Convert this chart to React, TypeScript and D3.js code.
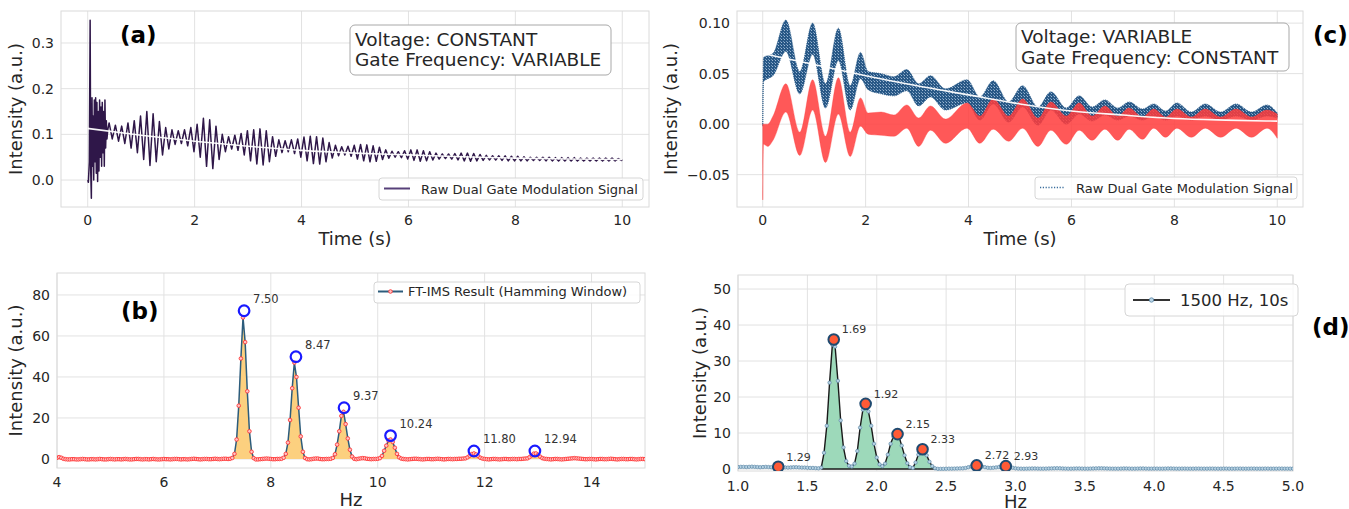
import React from "react";
import * as d3 from "d3";

const FONT = "DejaVu Sans, Verdana, sans-serif";
const INK = "#262626";

// ---------------- Panel (a): raw signal, voltage constant ----------------
const aEarlyT = [0, 0.012, 0.03, 0.045, 0.056, 0.068, 0.08, 0.09, 0.1, 0.112, 0.124, 0.136, 0.148, 0.16, 0.172, 0.185, 0.197, 0.21, 0.222, 0.235, 0.248, 0.26, 0.272, 0.285, 0.298, 0.31, 0.322, 0.335, 0.348, 0.36, 0.375];
const aEarlyV = [0.0, -0.005, 0.04, 0.35, 0.02, -0.04, 0.18, 0.03, 0.14, 0.0, 0.175, 0.04, 0.18, 0.015, 0.17, -0.003, 0.15, 0.02, 0.175, 0.05, 0.16, 0.03, 0.17, 0.06, 0.15, 0.03, 0.175, 0.07, 0.13, 0.09, 0.11];
const A_CYCLE_T0 = 0.4;
const A_PERIOD = 0.1176;
const aCrest = [0.125, 0.12, 0.118, 0.125, 0.13, 0.14, 0.15, 0.145, 0.128, 0.115, 0.11, 0.108, 0.11, 0.115, 0.122, 0.135, 0.132, 0.118, 0.1, 0.095, 0.098, 0.102, 0.108, 0.11, 0.112, 0.108, 0.095, 0.088, 0.086, 0.088, 0.09, 0.094, 0.096, 0.095, 0.092, 0.082, 0.076, 0.073, 0.074, 0.076, 0.078, 0.077, 0.075, 0.072, 0.066, 0.063, 0.062, 0.064, 0.066, 0.066, 0.064, 0.062, 0.059, 0.057, 0.057, 0.058, 0.059, 0.059, 0.058, 0.056, 0.054, 0.053, 0.053, 0.053, 0.052, 0.052, 0.051, 0.05, 0.05, 0.05, 0.05, 0.049, 0.049, 0.049, 0.049, 0.048, 0.048, 0.048, 0.048, 0.048, 0.048, 0.047];
const aTrough = [0.09, 0.085, 0.08, 0.07, 0.06, 0.045, 0.032, 0.04, 0.055, 0.068, 0.078, 0.08, 0.075, 0.062, 0.05, 0.03, 0.025, 0.045, 0.062, 0.068, 0.065, 0.055, 0.042, 0.035, 0.033, 0.04, 0.052, 0.06, 0.062, 0.058, 0.05, 0.042, 0.036, 0.035, 0.04, 0.048, 0.053, 0.055, 0.052, 0.046, 0.042, 0.04, 0.041, 0.045, 0.048, 0.05, 0.049, 0.046, 0.043, 0.041, 0.042, 0.044, 0.046, 0.047, 0.046, 0.044, 0.042, 0.041, 0.042, 0.043, 0.044, 0.044, 0.043, 0.042, 0.042, 0.042, 0.042, 0.043, 0.043, 0.042, 0.042, 0.042, 0.042, 0.042, 0.042, 0.042, 0.042, 0.042, 0.042, 0.042, 0.042, 0.043];
const aEndT = 10;
const aEndV = 0.045;
const aTrendT = [0, 1, 2, 3, 4, 5, 6, 7, 8, 9, 10];
const aTrend = [0.113, 0.098, 0.085, 0.074, 0.065, 0.059, 0.055, 0.051, 0.048, 0.046, 0.045];

// ---------------- Panel (b): FT-IMS spectrum ----------------
const B_STEP = 0.04;
const bPieces: [number, number[]][] = [
  [4.0, [0.6, 0.9, 0.6, 0.1, -0.1, -0.2, -0.2, -0.1, -0.1, -0.2, -0.2, -0.1, 0.0, -0.1, -0.2, -0.2, -0.1, -0.1, -0.2, -0.1, 0.0, -0.1, -0.2, -0.2, -0.1, 0.0, -0.1, -0.2, -0.1, -0.1, -0.2, -0.1, 0.0, -0.1, -0.2, -0.2, -0.1, 0.0, 0.0, -0.1, -0.2, -0.1, -0.1, -0.2, -0.1, 0.0, -0.1, -0.2, -0.2, -0.1, 0.0, -0.1, -0.1, -0.2, -0.1, 0.0, 0.0, -0.1, -0.2, -0.1, -0.1, -0.2, -0.1, 0.0, 0.1, 0.0, -0.1, -0.2, -0.1, 0.0, 0.0, -0.1, -0.1, 0.0, 0.1, 0.0, -0.1, 0.0, 0.1, 0.1, 0.0, 0.1]],
  [7.28, [0.5, 2.5, 9.5, 26, 49, 69, 57, 33, 13.5, 3.5, 0.4, -0.2]],
  [7.76, [-0.2, -0.1, 0.0, 0.1, 0.2, 0.1, 0.0, -0.1, -0.1, 0.0, 0.0]],
  [8.2, [0.1, 0.6, 2.5, 8, 19, 34.5, 47, 40, 25, 11, 3.5, 0.5, -0.1]],
  [8.72, [-0.2, -0.1, 0.1, 0.2, 0.2, 0.0, -0.1, -0.1, 0.0, 0.0]],
  [9.12, [0.1, 0.5, 2.3, 7, 13.5, 21, 23, 17, 10, 4.5, 1.2, 0.1]],
  [9.6, [-0.1, 0.1, 0.3, 0.4, 0.3, 0.1, 0.0, -0.1, 0.0, 0.0, 0.1]],
  [10.04, [0.4, 1.5, 4, 6.5, 9, 9.5, 8.3, 5.5, 2.5, 0.8, 0.2]],
  [10.48, [0.0, -0.1, -0.2, -0.1, 0.0, 0.1, 0.1, 0.0, -0.1, -0.2, -0.1, 0.0, 0.0, -0.1, -0.1, 0.0, 0.1, 0.0, -0.1, -0.2, -0.1, 0.0, 0.0, -0.1, 0.0, 0.0, 0.1, 0.1, 0.2]],
  [11.64, [0.3, 0.8, 1.6, 2.4, 2.7, 2.2, 1.4, 0.6, 0.2]],
  [12.0, [0.0, -0.1, -0.2, -0.1, 0.0, 0.0, -0.1, -0.2, -0.1, 0.0, 0.0, -0.1, -0.1, 0.0, 0.0, -0.1, 0.0, 0.0, 0.1, 0.2]],
  [12.8, [0.3, 0.9, 1.8, 2.6, 2.7, 2.0, 1.1, 0.4, 0.1]],
  [13.16, [0.0, -0.1, -0.2, -0.1, 0.0, 0.0, -0.1, -0.2, -0.1, 0.0, 0.1, 0.2, 0.3, 0.4, 0.3, 0.2, 0.1, 0.0, -0.1, -0.1, 0.0, 0.0, -0.1, -0.2, -0.1, 0.0, 0.0, -0.1, -0.1, 0.0, 0.1, 0.0, -0.1, -0.2, -0.1, 0.0, 0.0, -0.1, -0.1, 0.0, 0.0, -0.1, -0.2, -0.1, 0.0, 0.0, -0.1]],
];
const bPeakHz = [7.5, 8.47, 9.37, 10.24, 11.8, 12.94];
const bPeakVal = [72.3, 49.9, 25.0, 11.4, 3.9, 3.9];

// ---------------- Panel (c): raw signal, voltage variable ----------------
const cT = [0, 0.015, 0.1, 0.2, 0.45, 0.72, 0.97, 1.22, 1.47, 1.7, 1.9, 2.05, 2.3, 2.55, 2.8, 3.03, 3.26, 3.55, 3.97, 4.22, 4.48, 4.78, 5.05, 5.35, 5.6, 5.9, 6.15, 6.4, 6.65, 6.9, 7.12, 7.38, 7.6, 7.83, 8.05, 8.33, 8.6, 8.9, 9.2, 9.5, 9.8, 10];
const cRedHi = [0.0, 0.0, 0.0, 0.008, 0.04, -0.008, 0.044, -0.012, 0.046, -0.008, 0.026, 0.011, 0.012, 0.009, 0.019, 0.006, 0.018, 0.005, 0.021, 0.008, 0.025, 0.008, 0.025, 0.006, 0.022, 0.008, 0.021, 0.008, 0.018, 0.008, 0.016, 0.007, 0.015, 0.007, 0.015, 0.007, 0.015, 0.007, 0.015, 0.007, 0.014, 0.01];
const cRedLo = [-0.075, -0.02, -0.022, -0.016, 0.012, -0.031, 0.014, -0.038, 0.01, -0.032, -0.002, -0.01, -0.011, -0.012, -0.004, -0.022, -0.006, -0.019, -0.004, -0.019, -0.005, -0.017, -0.004, -0.022, -0.006, -0.02, -0.006, -0.016, -0.005, -0.016, -0.005, -0.015, -0.004, -0.013, -0.004, -0.013, -0.004, -0.013, -0.004, -0.013, -0.004, -0.014];
const cBlueHi = [0.0, 0.066, 0.068, 0.07, 0.103, 0.052, 0.1, 0.04, 0.095, 0.038, 0.071, 0.052, 0.05, 0.047, 0.054, 0.04, 0.048, 0.035, 0.044, 0.027, 0.043, 0.022, 0.038, 0.017, 0.032, 0.016, 0.028, 0.017, 0.024, 0.016, 0.022, 0.015, 0.02, 0.013, 0.021, 0.012, 0.02, 0.012, 0.02, 0.012, 0.019, 0.011];
const cBlueLo = [-0.002, 0.042, 0.045, 0.048, 0.072, 0.03, 0.069, 0.016, 0.063, 0.014, 0.045, 0.034, 0.03, 0.028, 0.033, 0.018, 0.027, 0.014, 0.021, 0.004, 0.02, 0.002, 0.017, -0.001, 0.014, 0.0, 0.01, 0.003, 0.009, 0.004, 0.008, 0.004, 0.008, 0.004, 0.008, 0.004, 0.008, 0.004, 0.008, 0.004, 0.008, 0.006];
const cTrendT = [0, 1, 2, 3, 4, 5, 6, 7, 8, 9, 10];
const cTrend = [0.07, 0.059, 0.048, 0.038, 0.029, 0.02, 0.013, 0.009, 0.0056, 0.004, 0.003];

// ---------------- Panel (d): spectrum 1500 Hz, 10 s ----------------
const D_STEP = 0.02;
const dPieces: [number, number[]][] = [
  [1.0, [0.55, 0.6, 0.6, 0.55, 0.6, 0.65, 0.6, 0.55, 0.5, 0.55, 0.6, 0.55, 0.5, 0.45, 0.45, 0.5, 0.5, 0.45, 0.4, 0.45, 0.5, 0.5, 0.45, 0.4, 0.4, 0.35, 0.3, 0.3, 0.25, 0.2]],
  [1.6, [0.4, 4.5, 12, 24, 34.5, 34, 24.5, 13.5, 6, 2.2, 0.9, 0.7, 1.5, 5, 11.5, 16.5, 17.8, 16, 12, 7, 3.2, 1.3, 0.8, 1.5, 4, 7, 9, 9.6, 9, 6.5, 3.8, 1.6, 0.5, 0.3, 1.8, 4, 5.3, 5.1, 3.8, 2, 0.8, 0.2, 0.05]],
  [2.46, [0.05, 0.05, 0.08, 0.1, 0.1, 0.12, 0.15, 0.18, 0.2, 0.3, 0.5, 0.7, 0.85, 0.9, 0.85, 0.7, 0.5, 0.35, 0.3, 0.35, 0.45, 0.55, 0.6, 0.62, 0.6, 0.5, 0.35, 0.2, 0.12]],
  [3.04, [0.1, 0.08, 0.1, 0.12, 0.15, 0.15, 0.12, 0.1, 0.1, 0.12, 0.15, 0.18, 0.2, 0.22, 0.2, 0.15, 0.12, 0.1, 0.1, 0.12, 0.15, 0.15, 0.12, 0.1, 0.1, 0.12, 0.15, 0.18, 0.2, 0.2, 0.18, 0.15, 0.12, 0.1, 0.1, 0.1, 0.12, 0.15, 0.15, 0.12, 0.1, 0.1, 0.12, 0.15, 0.15, 0.12, 0.1, 0.1, 0.12, 0.12, 0.1, 0.1, 0.12, 0.15, 0.15, 0.12, 0.1, 0.1, 0.12, 0.12, 0.1, 0.1, 0.1, 0.12, 0.12, 0.1, 0.1, 0.1, 0.12, 0.12, 0.1, 0.1, 0.1, 0.12, 0.12, 0.1, 0.1, 0.1, 0.12, 0.12, 0.1, 0.1, 0.1, 0.12, 0.12, 0.1, 0.1, 0.1, 0.12, 0.12, 0.1, 0.1, 0.1, 0.12, 0.12, 0.1, 0.1, 0.1, 0.1]],
];
const dPeakHz = [1.29, 1.69, 1.92, 2.15, 2.33, 2.72, 2.93];
const dPeakVal = [0.65, 36, 18.1, 9.7, 5.5, 1.0, 0.8];
const D_FILL_FROM = 1.6;
const D_FILL_TO = 2.44;

// ---------------- ticks ----------------
const aXTicks = [0, 2, 4, 6, 8, 10];
const aYTicks = [0, 0.1, 0.2, 0.3];
const bXTicks = [4, 6, 8, 10, 12, 14];
const bYTicks = [0, 20, 40, 60, 80];
const cXTicks = [0, 2, 4, 6, 8, 10];
const cYTicks = [-0.05, 0, 0.05, 0.1];
const dXTicks = [1, 1.5, 2, 2.5, 3, 3.5, 4, 4.5, 5];
const dYTicks = [0, 10, 20, 30, 40, 50];

type Pt = [number, number];
type Lin = d3.ScaleLinear<number, number>;

function expand(pieces: [number, number[]][], step: number): Pt[] {
  const out: Pt[] = [];
  pieces.forEach(([s, vals]) => vals.forEach((v, i) => out.push([+(s + i * step).toFixed(4), v])));
  return out.sort((a, b) => a[0] - b[0]);
}

const minus = (s: string) => s.replace("-", "\u2212");

function Frame(p: {
  x: Lin; y: Lin; xTicks: number[]; yTicks: number[];
  xFmt: (v: number) => string; yFmt: (v: number) => string;
  xTickY: number; xLabel: string; xLabelY: number; yLabelX: number; id: string;
}) {
  const [x0, x1] = p.x.range();
  const [yb, yt] = p.y.range();
  return (
    <g fontFamily={FONT}>
      <defs>
        <clipPath id={p.id}>
          <rect x={x0} y={yt} width={x1 - x0} height={yb - yt} />
        </clipPath>
      </defs>
      <rect x={x0} y={yt} width={x1 - x0} height={yb - yt} fill="#ffffff" />
      {p.xTicks.map((t) => (
        <line key={"gx" + t} x1={p.x(t)} x2={p.x(t)} y1={yt} y2={yb} stroke="#e2e2e2" strokeWidth={1} />
      ))}
      {p.yTicks.map((t) => (
        <line key={"gy" + t} x1={x0} x2={x1} y1={p.y(t)} y2={p.y(t)} stroke="#e2e2e2" strokeWidth={1} />
      ))}
      <rect x={x0} y={yt} width={x1 - x0} height={yb - yt} fill="none" stroke="#dadada" strokeWidth={1} />
      {p.xTicks.map((t) => (
        <text key={"tx" + t} x={p.x(t)} y={p.xTickY} textAnchor="middle" fontSize={14} fill={INK}>
          {p.xFmt(t)}
        </text>
      ))}
      {p.yTicks.map((t) => (
        <text key={"ty" + t} x={x0 - 7} y={p.y(t)} dy="0.36em" textAnchor="end" fontSize={14} fill={INK}>
          {p.yFmt(t)}
        </text>
      ))}
      <text x={(x0 + x1) / 2} y={p.xLabelY} textAnchor="middle" fontSize={18} fill={INK}>
        {p.xLabel}
      </text>
      <text transform={`translate(${p.yLabelX},${(yb + yt) / 2}) rotate(-90)`} textAnchor="middle" fontSize={18} fill={INK}>
        Intensity (a.u.)
      </text>
    </g>
  );
}

export default function App() {
  const xA = d3.scaleLinear().domain([-0.5, 10.5]).range([61, 649]);
  const yA = d3.scaleLinear().domain([-0.059, 0.37]).range([207, 11]);
  const xB = d3.scaleLinear().domain([4, 15]).range([57, 645]);
  const yB = d3.scaleLinear().domain([-4.4, 90.7]).range([468, 273]);
  const xC = d3.scaleLinear().domain([-0.5, 10.5]).range([737, 1303]);
  const yC = d3.scaleLinear().domain([-0.082, 0.112]).range([207, 11]);
  const xD = d3.scaleLinear().domain([1, 5]).range([738, 1293]);
  const yD = d3.scaleLinear().domain([-0.55, 53.9]).range([471, 275]);

  // (a) signal
  const aSignal: Pt[] = [
    ...aEarlyT.map((t, i) => [t, aEarlyV[i]] as Pt),
    ...aCrest.flatMap((c, k) => [
      [A_CYCLE_T0 + k * A_PERIOD, c] as Pt,
      [A_CYCLE_T0 + (k + 0.5) * A_PERIOD, aTrough[k]] as Pt,
    ]),
    [aEndT, aEndV],
  ];
  const lineA = d3.line<Pt>().x((d) => xA(d[0])).y((d) => yA(d[1]));
  const trendA = d3.line<number>().x((t) => xA(t)).y((_, i) => yA(aTrend[i])).curve(d3.curveMonotoneX);

  // (b) spectrum
  const bPts = expand(bPieces, B_STEP);
  const lineB = d3.line<Pt>().x((d) => xB(d[0])).y((d) => yB(d[1]));
  const areaB = d3.area<Pt>().x((d) => xB(d[0])).y0(yB(0)).y1((d) => yB(Math.max(0, d[1])));

  // (c) bands
  const band = (hi: number[], lo: number[]) =>
    d3.area<number>().x((t) => xC(t)).y0((_, i) => yC(lo[i])).y1((_, i) => yC(hi[i])).curve(d3.curveMonotoneX)(cT) || "";
  const trendC = d3.line<number>().x((t) => xC(t)).y((_, i) => yC(cTrend[i])).curve(d3.curveMonotoneX);

  // (d) spectrum
  const dPts = expand(dPieces, D_STEP);
  const lineD = d3.line<Pt>().x((d) => xD(d[0])).y((d) => yD(d[1]));
  const dFillPts = dPts.filter((d) => d[0] >= D_FILL_FROM - 1e-6 && d[0] <= D_FILL_TO + 1e-6);
  const areaD = d3.area<Pt>().x((d) => xD(d[0])).y0(yD(0)).y1((d) => yD(Math.max(0, d[1])));

  const fmt1 = d3.format(".1f");
  const fmt0 = d3.format("d");
  const fmt2 = (v: number) => minus(d3.format(".2f")(v));

  return (
    <svg width={1349} height={509} style={{ position: "absolute", left: 0, top: 0, background: "#ffffff" }} fontFamily={FONT}>
      <defs>
        <pattern id="blueDots" patternUnits="userSpaceOnUse" width={3} height={3}>
          <rect width={3} height={3} fill="#285886" />
          <rect x={1} y={0} width={1} height={1} fill="#9db8d3" />
          <rect x={0} y={2} width={1} height={1} fill="#6f95bb" />
        </pattern>
      </defs>
      <rect width={1349} height={509} fill="#ffffff" />

      {/* ---------------- (a) ---------------- */}
      <Frame id="clipA" x={xA} y={yA} xTicks={aXTicks} yTicks={aYTicks} xFmt={fmt0} yFmt={fmt1}
        xTickY={225} xLabel="Time (s)" xLabelY={245} yLabelX={22} />
      <g clipPath="url(#clipA)">
        <path d={lineA(aSignal) || ""} fill="none" stroke="#2f1749" strokeWidth={1.5} strokeLinejoin="round" />
        <path d={trendA(aTrendT) || ""} fill="none" stroke="#ffffff" strokeWidth={1.6} opacity={0.95} />
      </g>
      <text x={120} y={43} fontSize={23} fontWeight="bold" fill="#000">(a)</text>
      <rect x={350} y={25} width={261} height={50} rx={5} fill="#ffffff" stroke="#a8a8a8" />
      <text x={355} y={45.5} fontSize={18.5} fill={INK}>Voltage: CONSTANT</text>
      <text x={355} y={66} fontSize={18.5} fill={INK}>Gate Frequency: VARIABLE</text>
      <rect x={379} y={178} width={264} height={22} rx={3} fill="#ffffff" fillOpacity={0.85} stroke="#d6d6d6" />
      <line x1={384} x2={410} y1={188.5} y2={188.5} stroke="#574079" strokeWidth={2} />
      <text x={421} y={193.5} fontSize={13} fill={INK}>Raw Dual Gate Modulation Signal</text>

      {/* ---------------- (c) ---------------- */}
      <Frame id="clipC" x={xC} y={yC} xTicks={cXTicks} yTicks={cYTicks} xFmt={fmt0} yFmt={fmt2}
        xTickY={225} xLabel="Time (s)" xLabelY={245} yLabelX={677} />
      <g clipPath="url(#clipC)">
        <path d={band(cBlueHi, cBlueLo)} fill="url(#blueDots)" stroke="#2a5a88" strokeWidth={0.8} strokeDasharray="1 1" />
        <path d={band(cRedHi, cRedLo)} fill="#ff3d3d" fillOpacity={0.86} stroke="#ff3d3d" strokeOpacity={0.6} strokeWidth={0.6} />
        <path d={trendC(cTrendT) || ""} fill="none" stroke="#ffffff" strokeWidth={1.6} opacity={0.95} />
      </g>
      <text x={1313} y={43} fontSize={23} fontWeight="bold" fill="#000">(c)</text>
      <rect x={1016} y={23} width={273} height={48} rx={5} fill="#ffffff" stroke="#a8a8a8" />
      <text x={1021} y={43} fontSize={18.5} fill={INK}>Voltage: VARIABLE</text>
      <text x={1021} y={63.5} fontSize={18.5} fill={INK}>Gate Frequency: CONSTANT</text>
      <rect x={1035} y={177} width={262} height={22} rx={3} fill="#ffffff" fillOpacity={0.85} stroke="#d6d6d6" />
      <line x1={1040} x2={1064} y1={187.5} y2={187.5} stroke="#3a6d9c" strokeWidth={1.6} strokeDasharray="1.2 1.6" />
      <text x={1076} y={192.5} fontSize={13} fill={INK}>Raw Dual Gate Modulation Signal</text>

      {/* ---------------- (b) ---------------- */}
      <Frame id="clipB" x={xB} y={yB} xTicks={bXTicks} yTicks={bYTicks} xFmt={fmt0} yFmt={fmt0}
        xTickY={487} xLabel="Hz" xLabelY={506} yLabelX={22} />
      <g clipPath="url(#clipB)">
        <path d={areaB(bPts) || ""} fill="#fcd07f" />
        <path d={lineB(bPts) || ""} fill="none" stroke="#2c5c7c" strokeWidth={1.5} />
        {bPts.map((d, i) => (
          <circle key={"bm" + i} cx={xB(d[0])} cy={yB(d[1])} r={1.8} fill="#ffc4c4" stroke="#ff3636" strokeWidth={0.9} />
        ))}
        {bPeakHz.map((h, i) => (
          <circle key={"bp" + i} cx={xB(h)} cy={yB(bPeakVal[i])} r={5.3} fill="none" stroke="#1a1aff" strokeWidth={2.2} />
        ))}
      </g>
      {bPeakHz.map((h, i) => (
        <text key={"bl" + i} x={xB(h) + 9} y={yB(bPeakVal[i]) - 8} fontSize={11.5} fill="#333">
          {h.toFixed(2)}
        </text>
      ))}
      <text x={121} y={319} fontSize={23} fontWeight="bold" fill="#000">(b)</text>
      <rect x={374} y={282} width={266} height={21} rx={3} fill="#ffffff" fillOpacity={0.85} stroke="#d6d6d6" />
      <line x1={378} x2={403} y1={291.5} y2={291.5} stroke="#2c5c7c" strokeWidth={2} />
      <circle cx={390.5} cy={291.5} r={1.8} fill="#ffc4c4" stroke="#ff3636" strokeWidth={0.9} />
      <text x={408} y={296} fontSize={13} fill={INK}>FT-IMS Result (Hamming Window)</text>

      {/* ---------------- (d) ---------------- */}
      <Frame id="clipD" x={xD} y={yD} xTicks={dXTicks} yTicks={dYTicks} xFmt={fmt1} yFmt={fmt0}
        xTickY={491} xLabel="Hz" xLabelY={507.5} yLabelX={706} />
      <g clipPath="url(#clipD)">
        <path d={areaD(dFillPts) || ""} fill="#9dd9ba" />
        <line x1={xD(D_FILL_FROM)} x2={xD(D_FILL_TO)} y1={yD(0)} y2={yD(0)} stroke="#1a1a1a" strokeWidth={1.3} />
        <path d={lineD(dPts) || ""} fill="none" stroke="#1a1a1a" strokeWidth={1.4} />
        {dPts.map((d, i) => (
          <circle key={"dm" + i} cx={xD(d[0])} cy={yD(d[1])} r={1.7} fill="#b8d3e4" stroke="#5a86a6" strokeWidth={0.7} />
        ))}
        {dPeakHz.map((h, i) => (
          <circle key={"dp" + i} cx={xD(h)} cy={yD(dPeakVal[i])} r={5.3} fill="#ff5a36" stroke="#1f4a70" strokeWidth={2} />
        ))}
      </g>
      {dPeakHz.map((h, i) => (
        <text key={"dl" + i} x={xD(h) + 8} y={yD(dPeakVal[i]) - 6} fontSize={11} fill="#333">
          {h.toFixed(2)}
        </text>
      ))}
      <text x={1312} y={335} fontSize={23} fontWeight="bold" fill="#000">(d)</text>
      <rect x={1125} y={284} width={173} height={32} rx={4} fill="#ffffff" fillOpacity={0.85} stroke="#d6d6d6" />
      <line x1={1133} x2={1170} y1={300} y2={300} stroke="#333" strokeWidth={2} />
      <circle cx={1151.5} cy={300} r={2.2} fill="#b8d3e4" stroke="#5a86a6" strokeWidth={0.8} />
      <text x={1180} y={306} fontSize={16.5} fill={INK}>1500 Hz, 10s</text>
    </svg>
  );
}
